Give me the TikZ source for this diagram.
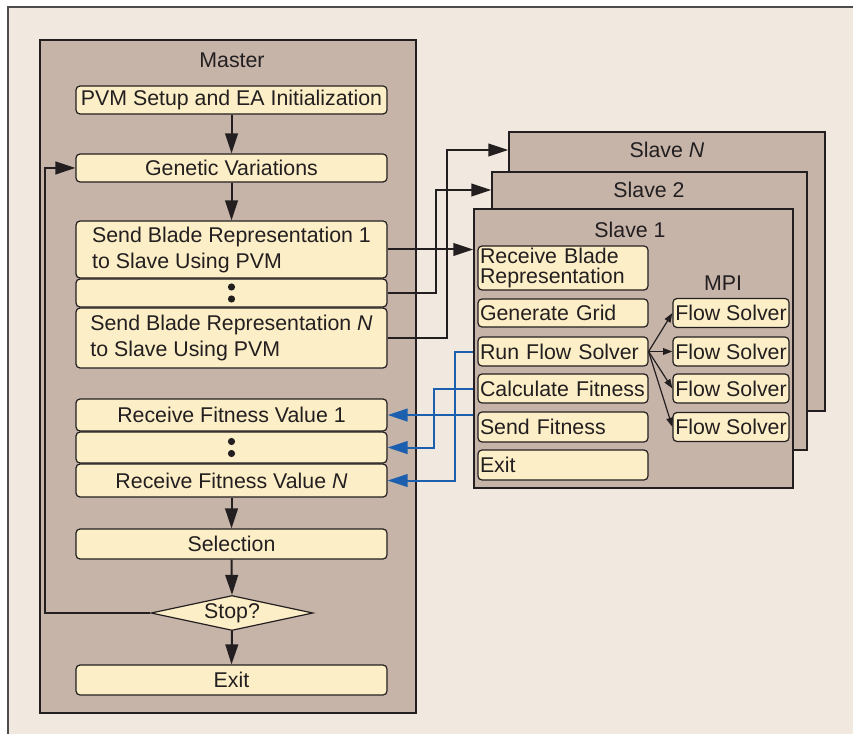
\documentclass[tikz,border=0pt]{standalone}
\usepackage{fontspec}
\setmainfont{Liberation Sans}
\usepackage{xcolor}
\usepackage{tikz}
\usetikzlibrary{shapes.geometric,arrows.meta,positioning,calc}
\definecolor{paper}{HTML}{F1E9DF}
\definecolor{taupe}{HTML}{C6B4A9}
\definecolor{cream}{HTML}{FCEEC6}
\definecolor{ink}{HTML}{231F20}
\definecolor{msgblue}{HTML}{1C5FAE}

\begin{document}
\begin{tikzpicture}[x=0.75pt, y=-0.75pt,
    font=\fontsize{16}{19.5}\selectfont, text=ink,
    panel/.style={draw=ink, fill=taupe, line width=1.1pt, inner sep=0pt},
    mbox/.style={draw=ink, fill=cream, line width=0.9pt, rounded corners=3pt,
        minimum width=233.25pt, inner sep=0pt, align=left},
    sbox/.style={draw=ink, fill=cream, line width=0.9pt, rounded corners=3pt,
        text width=124.5pt, inner xsep=1.5pt, inner ysep=0pt, align=left},
    fbox/.style={draw=ink, fill=cream, line width=0.9pt, rounded corners=3pt,
        minimum width=87pt, minimum height=21.75pt, inner sep=0pt},
    flow/.style={draw=ink, line width=1.5pt, -{Triangle[length=15pt,width=9.5pt]}},
    reply/.style={draw=msgblue, line width=1.5pt, -{Triangle[length=15pt,width=9.5pt]}},
    fan/.style={draw=ink, line width=0.9pt, -{Triangle[length=7pt,width=5pt]}}]

    \useasboundingbox (0,0) rectangle (853,734);
    \fill[paper] (8,7) rectangle (853,734);
    \draw[ink!80, line width=1.4pt] (8,734) -- (8,7) -- (853,7);

    % master side
    \node[panel, minimum width=282pt, minimum height=504.75pt] (master) at (228,376.5) {};
    \node (mtitle) at (232,60) {Master};
    \node[mbox, minimum height=21pt] (setup) at (231.5,100) {PVM Setup and EA Initialization};
    \node[mbox, minimum height=21pt] (genetic) at (231.5,168) {Genetic Variations};
    \node[mbox, minimum height=42.75pt] (send1) at (231.5,249.5) {Send Blade Representation 1\\to Slave Using PVM};
    \node[mbox, minimum height=21pt] (sdots) at (231.5,293) {};
    \node[mbox, minimum height=45pt] (sendN) at (231.5,338) {Send Blade Representation \textit{N}\\to Slave Using PVM};
    \node[mbox, minimum height=24pt] (recv1) at (231.5,415) {Receive Fitness Value 1};
    \node[mbox, minimum height=23.25pt] (rdots) at (231.5,447.5) {};
    \node[mbox, minimum height=24.75pt] (recvN) at (231.5,480.5) {Receive Fitness Value \textit{N}};
    \node[mbox, minimum height=22.5pt] (select) at (231.5,544) {Selection};
    \node[diamond, draw=ink, fill=cream, line width=0.9pt, aspect=4.6, inner sep=0pt,
        minimum width=121.5pt, minimum height=26.25pt] (stop) at (232,613) {Stop?};
    \node[mbox, minimum height=22.5pt] (mexit) at (231.5,680) {Exit};
    \foreach \d in {sdots,rdots} {
        \fill[ink] ([yshift=4.5pt]\d.center) circle (2.7pt);
        \fill[ink] ([yshift=-4.5pt]\d.center) circle (2.7pt);
    }

    % slave side
    \node[panel, minimum width=237pt, minimum height=209.25pt] (slaveN) at (667,271.5) {};
    \node (sNtitle) at (667,150) {Slave \textit{N}};
    \node[panel, minimum width=236.25pt, minimum height=208.5pt] (slave2) at (649.5,311) {};
    \node (s2title) at (649,190) {Slave 2};
    \node[panel, minimum width=239.25pt, minimum height=209.25pt] (slave1) at (633.5,348.5) {};
    \node (s1title) at (630,230) {Slave 1};
    \node (mpi) at (723,283) {MPI};
    \node[sbox, minimum height=33pt, font=\fontsize{16}{15.5}\selectfont] (recvb) at (563,268) {Receive Blade\\Representation};
    \node[sbox, minimum height=21pt] (grid) at (563,313) {Generate Grid};
    \node[sbox, minimum height=21.75pt] (run) at (563,351.5) {Run Flow Solver};
    \node[sbox, minimum height=21.75pt] (calc) at (563,388.5) {Calculate Fitness};
    \node[sbox, minimum height=22.5pt] (sfit) at (563,427) {Send Fitness};
    \node[sbox, minimum height=22.5pt] (sexit) at (563,465) {Exit};
    \foreach \y [count=\i] in {313,351.5,388.5,427}
        \node[fbox] (fs\i) at (731,\y) {Flow Solver};
    \foreach \i in {1,...,4}
        \draw[fan] (run.east) -- (fs\i.west);

    % connectors
    \draw[flow] (setup.south) -- (genetic.north);
    \draw[flow] (genetic.south) -- (send1.north);
    \draw[flow] (recvN.south) -- (select.north);
    \draw[flow] (select.south) -- (stop.north);
    \draw[flow] (stop.south) -- (mexit.north);
    \draw[flow] (stop.west) -- ++(-105,0) |- (genetic.west);
    \draw[flow] (send1.east) -- (send1.east -| slave1.west);
    \draw[flow] (sdots.east) -- ++(48,0) |- (s2title -| slave2.west);
    \draw[flow] (sendN.east) -- ++(59,0) |- (sNtitle -| slaveN.west);
    \draw[reply] (run.west -| slave1.west) -- ++(-18,0) |- (recvN.east);
    \draw[reply] (calc.west -| slave1.west) -- ++(-39,0) |- (rdots.east);
    \draw[reply] (recv1.east -| slave1.west) -- (recv1.east);
\end{tikzpicture}
\end{document}
